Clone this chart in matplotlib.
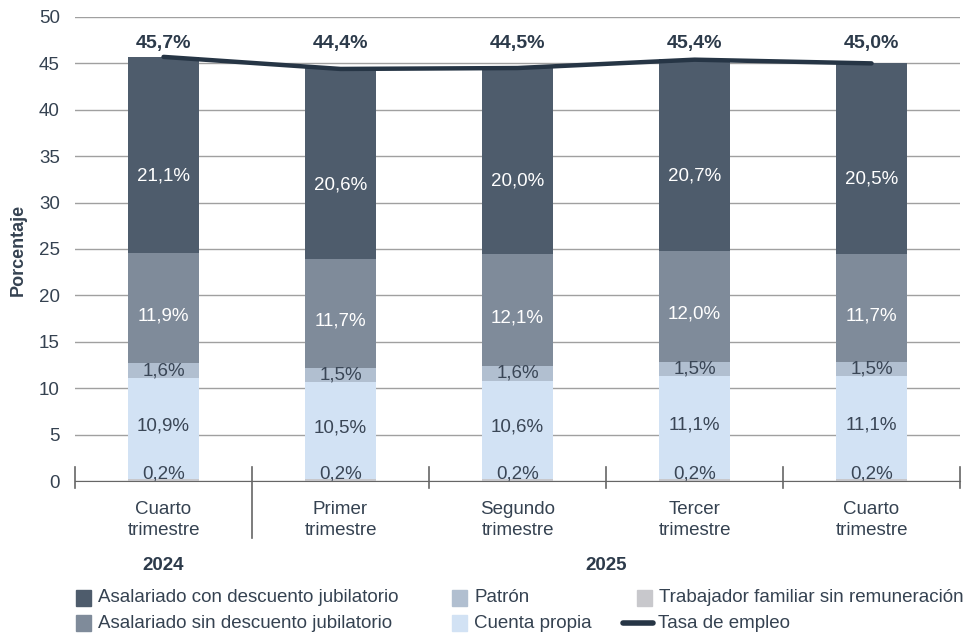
import matplotlib.pyplot as plt
from matplotlib.lines import Line2D
from matplotlib.patches import Rectangle

plt.rcParams["font.family"] = ["Liberation Sans", "DejaVu Sans"]

# data
categories = ["Cuarto\ntrimestre", "Primer\ntrimestre", "Segundo\ntrimestre",
              "Tercer\ntrimestre", "Cuarto\ntrimestre"]
years = ["2024", "2025"]
familiar = [0.2, 0.2, 0.2, 0.2, 0.2]
cuenta_propia = [10.9, 10.5, 10.6, 11.1, 11.1]
patron = [1.6, 1.5, 1.6, 1.5, 1.5]
sin_descuento = [11.9, 11.7, 12.1, 12.0, 11.7]
con_descuento = [21.1, 20.6, 20.0, 20.7, 20.5]
tasa_empleo = [45.7, 44.4, 44.5, 45.4, 45.0]

# name, values, colour, label colour, label position (fraction of segment)
series = [
    ("Trabajador familiar sin remuneración", familiar, "#c8c8cc", "#3a4656", 0.5),
    ("Cuenta propia", cuenta_propia, "#d2e2f4", "#3a4656", 0.53),
    ("Patrón", patron, "#b1bfd0", "#3a4656", 0.5),
    ("Asalariado sin descuento jubilatorio", sin_descuento, "#7f8b9a", "white", 0.43),
    ("Asalariado con descuento jubilatorio", con_descuento, "#4e5c6c", "white", 0.39),
]
LINE_COLOR = "#263545"
TEXT_COLOR = "#354251"
FS = 13.5

fig = plt.figure(figsize=(9.72, 6.36), dpi=100)
ax = fig.add_axes([0.0772, 0.2437, 0.9105, 0.7296])

x = list(range(len(categories)))
bottoms = [0.0] * len(x)
for name, vals, color, tcolor, frac in series:
    ax.bar(x, vals, width=0.405, bottom=bottoms, color=color, zorder=2)
    for i, v in enumerate(vals):
        ypos = bottoms[i] + v * frac
        if v < 0.5:
            ypos = 0.75
        ax.text(i, ypos, f"{v:.1f}%".replace(".", ","), ha="center",
                va="center", fontsize=FS, color=tcolor, zorder=4)
    bottoms = [b + v for b, v in zip(bottoms, vals)]

ax.plot(x, tasa_empleo, color=LINE_COLOR, linewidth=3.2,
        solid_capstyle="round", zorder=3)
for i, v in enumerate(tasa_empleo):
    ax.text(i, 47.1, f"{v:.1f}%".replace(".", ","), ha="center", va="center",
            fontsize=14, fontweight="bold", color="#2c3a4a", zorder=4)

ax.set_xlim(-0.5, 4.5)
ax.set_ylim(0, 50)
ax.set_yticks(range(0, 51, 5))
ax.tick_params(axis="y", length=0, labelsize=FS, labelcolor=TEXT_COLOR, pad=11)
ax.set_xticks([])
ax.yaxis.grid(True, color="#a0a0a0", linewidth=1, zorder=0)
ax.set_axisbelow(True)
for s in ["left", "right", "top"]:
    ax.spines[s].set_visible(False)
ax.spines["bottom"].set_color("#666666")
ax.spines["bottom"].set_zorder(5)
fig.text(18 / 972, 1 - 250 / 636, "Porcentaje", rotation=90, ha="center",
         va="center", fontsize=13, fontweight="bold", color=TEXT_COLOR)

# separators between categories
trans = ax.get_xaxis_transform()
for b in [-0.5, 0.5, 1.5, 2.5, 3.5, 4.5]:
    y_end = -0.123 if b == 0.5 else -0.015
    ax.add_line(Line2D([b, b], [0.03, y_end], transform=trans,
                       color="#666666", linewidth=1.2, clip_on=False))

for i, lab in enumerate(categories):
    ax.text(i, -0.084, lab, transform=trans, ha="center", va="center",
            fontsize=FS, color=TEXT_COLOR, linespacing=1.3)
ax.text(0, -0.183, years[0], transform=trans, ha="center", va="center",
        fontsize=13.5, fontweight="bold", color="#2c3a4a")
ax.text(2.5, -0.183, years[1], transform=trans, ha="center", va="center",
        fontsize=13.5, fontweight="bold", color="#2c3a4a")

# legend drawn by hand in figure coordinates
def fy(py):
    return 1 - py / 636

def fx(px):
    return px / 972

legend_items = [
    (76, 598, "Asalariado con descuento jubilatorio", "#4e5c6c", "box"),
    (76, 623, "Asalariado sin descuento jubilatorio", "#7f8b9a", "box"),
    (452, 598, "Patrón", "#b1bfd0", "box"),
    (452, 623, "Cuenta propia", "#d2e2f4", "box"),
    (637, 598, "Trabajador familiar sin remuneración", "#c8c8cc", "box"),
    (621, 623, "Tasa de empleo", LINE_COLOR, "line"),
]
for px, py, label, color, kind in legend_items:
    if kind == "box":
        fig.patches.append(Rectangle((fx(px), fy(py + 8)), fx(15), 16 / 636,
                                     transform=fig.transFigure, color=color))
        fig.text(fx(px + 22), fy(py), label, ha="left", va="center",
                 fontsize=FS, color=TEXT_COLOR)
    else:
        fig.add_artist(Line2D([fx(px + 2), fx(px + 32)], [fy(py), fy(py)],
                              transform=fig.transFigure, color=color,
                              linewidth=4, solid_capstyle="round"))
        fig.text(fx(px + 37), fy(py), label, ha="left", va="center",
                 fontsize=FS, color=TEXT_COLOR)

fig.savefig("out.png", dpi=100)
